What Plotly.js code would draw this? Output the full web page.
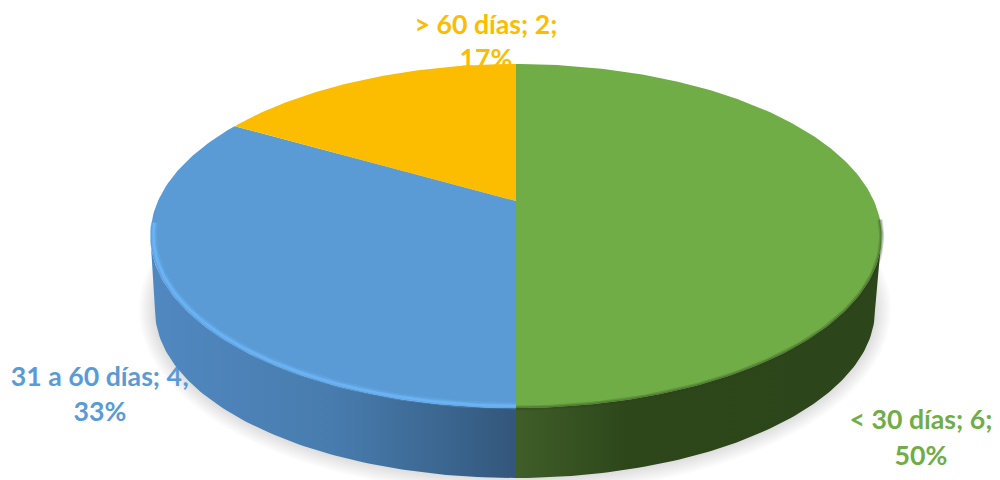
<!DOCTYPE html>
<html>
<head>
<meta charset="utf-8">
<script src="https://cdn.plot.ly/plotly-3.0.1.min.js"></script>
<style>html,body{margin:0;padding:0;background:#fff}#chart{width:1000px;height:480px}</style>
</head>
<body>
<div id="chart"></div>
<script>
// Chart values
const categories = ['< 30 días', '31 a 60 días', '> 60 días'];
const values = [6, 4, 2];
const percents = [50, 33, 17];
const sliceColors = ['#70ad47', '#5b9bd5', '#fcbc00'];
const labelColors = ['#70ad47', '#5b9bd5', '#fcbc00'];

// Label anchors in page pixels: [x, first line y, second line y]
const labelSpots = [[921, 422, 458], [100, 379, 414], [486, 27, 61]];

// Perspective model of the disc (circle projected to page pixels)
const cx = 516, apexY = 201, topY = 64, botY = 408, R = 358;
const c = (botY + topY - 2 * apexY) / (botY - topY);
const k = topY * (1 + c) - apexY;
function project(frac, s) {
  const t = 2 * Math.PI * frac, u = s * Math.sin(t), v = s * Math.cos(t), d = 1 + c * v;
  return [cx + R * u / d, (apexY + k * v) / d];
}
function arc(f0, f1, s) {
  const n = Math.max(2, Math.ceil(Math.abs(f1 - f0) * 360)), xs = [], ys = [];
  for (let i = 0; i <= n; i++) {
    const p = project(f0 + (f1 - f0) * i / n, s);
    xs.push(p[0]); ys.push(p[1]);
  }
  return [xs, ys];
}
// Widest points of the projected disc, as circle fractions
const fWideR = Math.acos(-c) / (2 * Math.PI), fWideL = 1 - fWideR;

// Lower rim of the disc (foot of the wall)
const foot = {cx: 515, cy: 310, rx: 360, ry: 168};
function footPoint(f, grow) {
  const t = 2 * Math.PI * f;
  return [foot.cx + (foot.rx + grow) * Math.sin(t), foot.cy - (foot.ry + grow) * Math.cos(t)];
}
function footArc(f0, f1, grow) {
  const n = Math.ceil(Math.abs(f1 - f0) * 360), xs = [], ys = [];
  for (let i = 0; i <= n; i++) {
    const p = footPoint(f0 + (f1 - f0) * i / n, grow);
    xs.push(p[0]); ys.push(p[1]);
  }
  return [xs, ys];
}

const total = values.reduce((a, b) => a + b, 0);
const traces = [];
const base = {type: 'scatter', hoverinfo: 'skip', showlegend: false};

// Soft shadow under the wall
for (let g = 16; g >= 0; g -= 2) {
  const e = footArc(0, 1, g);
  traces.push({...base, x: e[0], y: e[1], mode: 'lines', line: {width: 0}, fill: 'toself',
    fillcolor: 'rgba(0,0,0,0.014)'});
}

// Data labels (under the disc, as in the reference)
const lx = [], ly = [], lt = [], lc = [];
categories.forEach((name, i) => {
  lx.push(labelSpots[i][0], labelSpots[i][0]);
  ly.push(labelSpots[i][1], labelSpots[i][2]);
  lt.push(name + '; ' + values[i] + ';', percents[i] + '%');
  lc.push(labelColors[i], labelColors[i]);
});
traces.push({...base, x: lx, y: ly, text: lt, mode: 'text', textposition: 'middle center',
  textfont: {family: 'Lato, "Open Sans", sans-serif', size: 26.7, weight: 700, color: lc}});

// Wall
const fMid = values[0] / total;   // 0.5, bottom of disc
const footBottom = foot.cy + foot.ry;
const wallL = footArc(fMid, 0.75, 0), topL = arc(fWideL, fMid, 1);
traces.push({...base,
  x: [cx].concat(wallL[0], topL[0]), y: [footBottom].concat(wallL[1], topL[1]),
  mode: 'lines', line: {width: 0}, fill: 'toself',
  fillgradient: {type: 'horizontal', start: 150, stop: 516,
    colorscale: [[0, '#5088c0'], [0.5, '#487cae'], [0.78, '#3c6892'], [1, '#33567b']]}});
const wallR = footArc(0.25, fMid, 0), topR = arc(fMid, fWideR, 1);
traces.push({...base,
  x: wallR[0].concat([cx], topR[0]), y: wallR[1].concat([footBottom], topR[1]),
  mode: 'lines', line: {width: 0}, fill: 'toself',
  fillgradient: {type: 'horizontal', start: 516, stop: 882,
    colorscale: [[0, '#3f5e28'], [0.3, '#2d471b'], [1, '#2c451a']]}});

// Top face, slices clockwise from 12 o'clock
let acc = 0;
const faces = categories.map((name, i) => {
  const f0 = acc / total, f1 = (acc + values[i]) / total;
  acc += values[i];
  const a = arc(f0, f1, 1);
  return {...base, x: [cx].concat(a[0], [cx]), y: [apexY].concat(a[1], [apexY]),
    mode: 'lines', line: {width: 0}, fill: 'toself', fillcolor: sliceColors[i]};
});
traces.push(faces[1], faces[2]);

// Rim highlight on the blue slice
const rim = arc(fMid, fWideL + 0.012, 0.992);
[[7, 'rgba(104,176,242,0.28)'], [4.5, 'rgba(104,176,242,0.5)'], [2.5, 'rgba(106,180,246,0.9)']].forEach(st => {
  traces.push({...base, x: rim[0], y: rim[1], mode: 'lines', line: {width: st[0], color: st[1]}});
});
// Green slice sits above the highlight ends, with a soft dark edge
traces.push(faces[0]);
const edge = arc(fWideR - 0.015, 0.5, 1);
[[5, 'rgba(44,69,26,0.22)'], [2.5, 'rgba(44,69,26,0.3)']].forEach(st => {
  traces.push({...base, x: edge[0], y: edge[1], mode: 'lines', line: {width: st[0], color: st[1]}});
});

Plotly.newPlot('chart', traces, {
  width: 1000, height: 480,
  margin: {l: 0, r: 0, t: 0, b: 0},
  paper_bgcolor: '#fff', plot_bgcolor: '#fff',
  showlegend: false, hovermode: false,
  xaxis: {range: [0, 1000], visible: false, fixedrange: true},
  yaxis: {range: [480, 0], visible: false, fixedrange: true}
}, {displayModeBar: false, staticPlot: true});
</script>
</body>
</html>
